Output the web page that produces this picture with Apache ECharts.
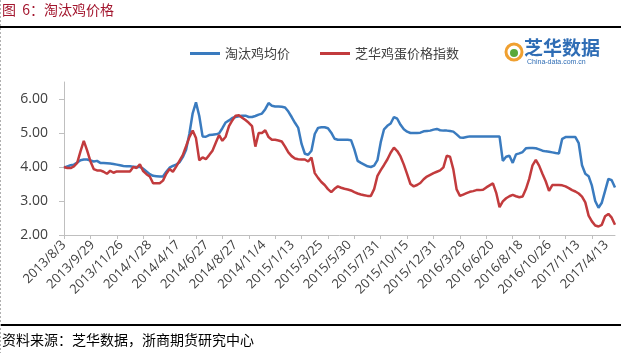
<!DOCTYPE html>
<html><head><meta charset="utf-8">
<script src="https://cdn.jsdelivr.net/npm/echarts@6/dist/echarts.min.js"></script>
<style>html,body{margin:0;padding:0;background:#fff}#c{width:621px;height:353px}</style>
</head><body><div id="c"></div>
<script>
const tickLabels = ['2013/8/3','2013/9/29','2013/11/26','2014/1/28','2014/4/17','2014/6/27','2014/8/27','2014/11/4','2015/1/13','2015/3/25','2015/5/30','2015/7/31','2015/10/15','2015/12/31','2016/3/29','2016/6/20','2016/8/18','2016/10/26','2017/1/13','2017/4/13'];

const blueValues = [
3.98,4.02,4.05,4.07,4.13,4.20,4.22,4.22,4.19,4.16,
4.18,4.12,4.12,4.11,4.10,4.09,4.07,4.05,4.03,4.02,
4.02,4.01,4.00,4.00,3.95,3.87,3.79,3.74,3.73,3.72,
3.72,3.86,3.98,4.03,4.07,4.14,4.29,4.51,4.98,5.58,
5.90,5.50,4.90,4.89,4.94,4.95,4.96,4.99,5.14,5.31,
5.37,5.44,5.47,5.49,5.51,5.51,5.47,5.47,5.50,5.54,
5.57,5.70,5.88,5.80,5.78,5.78,5.77,5.75,5.63,5.47,
5.30,5.15,4.68,4.39,4.36,4.48,4.97,5.15,5.17,5.17,
5.14,5.01,4.83,4.80,4.80,4.80,4.80,4.79,4.52,4.18,
4.12,4.07,4.02,4.00,4.04,4.20,4.73,5.11,5.21,5.28,
5.47,5.42,5.24,5.11,5.04,5.00,5.00,5.00,5.01,5.05,
5.06,5.07,5.10,5.12,5.08,5.07,5.07,5.06,5.04,4.96,
4.87,4.86,4.88,4.90,4.90,4.90,4.90,4.90,4.90,4.90,
4.90,4.90,4.90,4.18,4.30,4.33,4.12,4.37,4.40,4.44,
4.55,4.56,4.56,4.55,4.52,4.48,4.46,4.45,4.43,4.41,
4.40,4.83,4.88,4.88,4.88,4.88,4.70,4.05,3.80,3.73,
3.45,3.00,2.80,2.95,3.30,3.65,3.61,3.40
];

const redValues = [
4.00,3.97,3.97,4.02,4.12,4.46,4.77,4.49,4.17,3.94,
3.90,3.90,3.86,3.80,3.89,3.83,3.87,3.87,3.87,3.87,
3.87,4.00,3.97,4.08,3.88,3.79,3.72,3.52,3.52,3.52,
3.60,3.80,3.94,3.86,4.01,4.18,4.35,4.61,4.88,5.07,
4.85,4.20,4.28,4.23,4.35,4.48,4.71,4.94,4.77,4.89,
5.20,5.37,5.51,5.52,5.45,5.38,5.30,5.20,4.60,5.00,
5.00,5.08,4.88,4.80,4.80,4.78,4.75,4.60,4.43,4.32,
4.25,4.23,4.22,4.22,4.16,4.28,3.82,3.68,3.56,3.47,
3.35,3.26,3.36,3.43,3.39,3.36,3.34,3.31,3.26,3.22,
3.19,3.17,3.15,3.15,3.35,3.74,3.91,4.06,4.22,4.42,
4.57,4.47,4.31,4.07,3.79,3.50,3.43,3.47,3.53,3.64,
3.72,3.77,3.82,3.86,3.90,3.99,4.33,4.30,3.93,3.34,
3.15,3.19,3.23,3.27,3.29,3.32,3.32,3.33,3.40,3.46,
3.52,3.24,2.82,2.99,3.08,3.14,3.18,3.14,3.11,3.13,
3.35,3.65,4.05,4.21,4.04,3.80,3.58,3.30,3.47,3.47,
3.47,3.46,3.43,3.38,3.32,3.28,3.22,3.13,2.96,2.57,
2.40,2.28,2.25,2.30,2.55,2.62,2.51,2.30
];

const yTicks = [2, 3, 4, 5, 6];
const categories = blueValues.map((_, i) => String(i));

const chart = echarts.init(document.getElementById('c'));
const axisGray = '#bfbfbf';
const txt = '#404040';
chart.setOption({
  backgroundColor: '#fff',
  animation: false,
  grid: { left: 64, right: 6, top: 82, bottom: 118 },
  legend: {
    left: 185, top: 42, icon: 'rect', itemWidth: 30, itemHeight: 3, itemGap: 30,
    textStyle: { fontSize: 13, color: txt, fontFamily: 'Noto Sans CJK SC' },
    data: ['淘汰鸡均价', '芝华鸡蛋价格指数']
  },
  xAxis: [{
    type: 'category', data: categories, boundaryGap: false,
    axisLine: { lineStyle: { color: axisGray, width: 1 } },
    axisTick: { show: true, interval: 7, length: 4, lineStyle: { color: axisGray } },
    axisLabel: { show: false }, splitLine: { show: false }
  }, {
    type: 'value', position: 'bottom', min: 0, max: 19.3, interval: 1,
    axisLine: { show: false }, axisTick: { show: false }, splitLine: { show: false },
    axisLabel: {
      rotate: 45, margin: 8, fontSize: 13, color: txt, fontFamily: 'Open Sans',
      showMaxLabel: false,
      formatter: v => (Number.isInteger(v) && tickLabels[v]) ? tickLabels[v] : ''
    }
  }],
  yAxis: {
    type: 'value', min: 2, max: 6.5, interval: 1,
    axisLine: { show: true, lineStyle: { color: axisGray } },
    axisTick: { show: true, length: 5, customValues: yTicks, lineStyle: { color: axisGray } },
    splitLine: { show: false },
    axisLabel: { customValues: yTicks, margin: 16, fontSize: 14, color: txt, fontFamily: 'Open Sans',
      formatter: v => v.toFixed(2) }
  },
  series: [{
    name: '淘汰鸡均价', type: 'line', xAxisIndex: 0, data: blueValues, symbol: 'none',
    lineStyle: { color: '#3a7bbf', width: 2.5 }, itemStyle: { color: '#3a7bbf' }
  }, {
    name: '芝华鸡蛋价格指数', type: 'line', xAxisIndex: 0, data: redValues, symbol: 'none',
    lineStyle: { color: '#c23b3d', width: 2.5 }, itemStyle: { color: '#c23b3d' }
  }],
  graphic: [
    { type: 'text', left: 2, top: 3, style: { text: '图  6：淘汰鸡价格', fill: '#a3162e', font: '14px "Noto Sans CJK SC"' } },
    { type: 'line', shape: { x1: 0, y1: 27, x2: 621, y2: 27 }, style: { stroke: '#000', lineWidth: 2 } },
    { type: 'line', shape: { x1: 0, y1: 325, x2: 621, y2: 325 }, style: { stroke: '#000', lineWidth: 2 } },
    { type: 'line', shape: { x1: 0.5, y1: 0, x2: 0.5, y2: 353 }, style: { stroke: '#b0b0b0', lineWidth: 1, lineDash: [2, 2] } },
    { type: 'text', left: 2, top: 333, style: { text: '资料来源：芝华数据，浙商期货研究中心', fill: '#000', font: '14px "Noto Sans CJK SC"' } },
    { type: 'circle', shape: { cx: 514, cy: 52, r: 8 }, style: { fill: 'none', stroke: '#f0a030', lineWidth: 3 } },
    { type: 'circle', shape: { cx: 514, cy: 53, r: 4 }, style: { fill: '#5aa83a' } },
    { type: 'text', x: 524, y: 38, style: { text: '芝华数据', fill: '#2f6db5', font: 'bold 19px "Noto Sans CJK SC"' } },
    { type: 'text', x: 527, y: 59, style: { text: 'China-data.com.cn', fill: '#2f6db5', font: '7px "Liberation Sans"' } }
  ]
});
</script>
</body></html>
